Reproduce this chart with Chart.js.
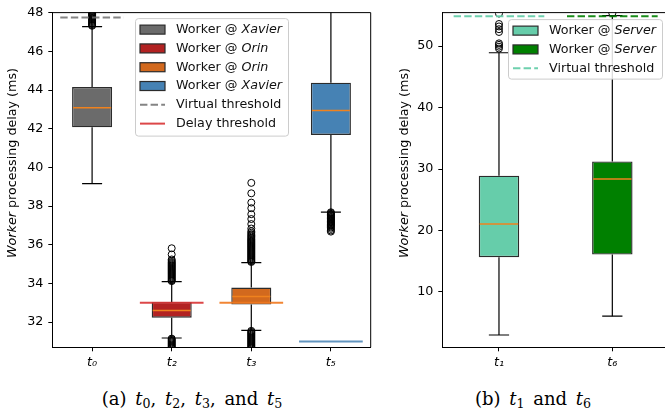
<!DOCTYPE html>
<html><head><meta charset="utf-8">
<script src="https://cdn.jsdelivr.net/npm/chart.js@4.4.0/dist/chart.umd.min.js"></script>
<style>
html,body{margin:0;padding:0;background:#fff;width:665px;height:416px;overflow:hidden;position:relative;}
#wrapA{position:absolute;left:0;top:0;width:380px;height:375px;}
#wrapB{position:absolute;left:380px;top:0;width:300px;height:375px;}
.cap{position:absolute;font-family:"DejaVu Serif",serif;font-size:18px;line-height:1;color:#000;white-space:nowrap;word-spacing:3px;transform:translateX(-50%);}
.cap sub{font-size:70%;vertical-align:-0.25em;line-height:0;}
</style></head><body>
<div id="wrapA"><canvas id="chartA" width="380" height="375"></canvas></div>
<div id="wrapB"><canvas id="chartB" width="300" height="375"></canvas></div>
<div class="cap" style="left:192px;top:390px">(a) <i>t</i><sub>0</sub>, <i>t</i><sub>2</sub>, <i>t</i><sub>3</sub>, and <i>t</i><sub>5</sub></div>
<div class="cap" style="left:533px;top:390px">(b) <i>t</i><sub>1</sub> and <i>t</i><sub>6</sub></div>
<script>
// ---------- Panel (a) data ----------
const catsA = ['t0', 't2', 't3', 't5'];
const tickLabelsA = ['t\u2080', 't\u2082', 't\u2083', 't\u2085'];
const q1A = [42.07, 32.23, 32.91, 41.68];
const q3A = [44.15, 33.03, 33.79, 44.38];
const medA = [43.08, 32.60, 33.33, 42.94];
const whiskLoA = [39.16, 31.18, 31.57, 37.69];
const whiskHiA = [47.28, 34.09, 35.08, 48.60];
const thresholdA = [47.75, 33.00, 33.00, 31.00];
const thresholdDashedA = [true, false, false, false];
const fliersA_t0 = [47.32, 47.36, 47.41, 47.46, 47.51, 47.56, 47.61, 47.66, 47.71, 47.76, 47.81, 47.86, 47.91, 47.96, 48.01, 48.08, 48.15];
const fliersA_t2 = [34.12, 34.16, 34.21, 34.26, 34.31, 34.36, 34.41, 34.46, 34.51, 34.56, 34.61, 34.66, 34.71, 34.76, 34.81, 34.86,
                    34.91, 34.96, 35.01, 35.06, 35.11, 35.17, 35.24, 35.50, 35.82,
                    31.15, 31.10, 31.05, 31.00, 30.95, 30.90, 30.85, 30.80, 30.75, 30.70, 30.65];
const fliersA_t3 = [39.20, 38.66, 38.18, 37.89, 37.58, 37.33, 37.07, 36.84, 36.70, 36.62, 36.55, 36.48, 36.42, 36.36, 36.30, 36.25,
                    36.20, 36.15, 36.10, 36.05, 36.00, 35.95, 35.90, 35.85, 35.80, 35.75, 35.70, 35.65, 35.60, 35.55, 35.50, 35.45,
                    35.40, 35.35, 35.30, 35.25, 35.20, 35.15, 35.11,
                    31.55, 31.50, 31.45, 31.40, 31.35, 31.30, 31.25, 31.20, 31.15, 31.10, 31.05, 31.00, 30.95, 30.90, 30.85,
                    30.80, 30.75, 30.70, 30.65];
const fliersA_t5 = [37.68, 37.64, 37.60, 37.56, 37.52, 37.48, 37.44, 37.40, 37.36, 37.32, 37.28, 37.24, 37.20, 37.16, 37.12, 37.08,
                    37.04, 37.00, 36.95, 36.89, 36.82, 36.74, 36.68];
const yTicksA = [32, 34, 36, 38, 40, 42, 44, 46, 48];
const boxColorsA = ['#6b6b6b', '#b22222', '#d2691e', '#4682b4'];
const thresholdColorsA = ['rgba(110,110,110,0.85)', 'rgba(214,39,40,0.85)', 'rgba(240,120,30,0.9)', 'rgba(70,130,180,0.85)'];
const legendLabelsA = [
  [['Worker @ ', false], ['Xavier', true]],
  [['Worker @ ', false], ['Orin', true]],
  [['Worker @ ', false], ['Orin', true]],
  [['Worker @ ', false], ['Xavier', true]],
  [['Virtual threshold', false]],
  [['Delay threshold', false]]
];
const legendKindsA = ['box', 'box', 'box', 'box', 'dash', 'line'];
const legendColorsA = ['#6b6b6b', '#b22222', '#d2691e', '#4682b4', 'rgba(110,110,110,0.85)', 'rgba(214,39,40,0.85)'];

// ---------- Panel (b) data ----------
const catsB = ['t1', 't6'];
const tickLabelsB = ['t\u2081', 't\u2086'];
const q1B = [15.65, 16.09];
const q3B = [28.93, 31.24];
const medB = [21.08, 28.38];
const whiskLoB = [3.00, 6.07];
const whiskHiB = [48.92, 54.95];
const thresholdB = [54.85, 54.85];
const thresholdDashedB = [true, true];
const fliersB_t1 = [49.60, 49.90, 50.20, 50.45, 52.30, 52.75, 53.20, 53.60, 55.30];
const fliersB_t6 = [55.35];
const yTicksB = [10, 20, 30, 40, 50];
const boxColorsB = ['#66cdaa', '#008000'];
const thresholdColorsB = ['rgba(102,205,170,0.95)', 'rgba(0,128,0,0.9)'];
const legendLabelsB = [
  [['Worker @ ', false], ['Server', true]],
  [['Worker @ ', false], ['Server', true]],
  [['Virtual threshold', false]]
];
const legendKindsB = ['box', 'box', 'dash'];
const legendColorsB = ['#66cdaa', '#008000', 'rgba(102,205,170,0.95)'];

// ---------- drawing helpers ----------
const FONT = '"DejaVu Sans", sans-serif';
const FS = 12.7;
const DASH = [7.4, 3.2];
function seg(ctx, x1, y1, x2, y2) { ctx.beginPath(); ctx.moveTo(x1, y1); ctx.lineTo(x2, y2); ctx.stroke(); }
function drawParts(ctx, parts, x, y) {
  let cx = x;
  parts.forEach(([t, it]) => {
    ctx.font = (it ? 'italic ' : '') + FS + 'px ' + FONT;
    ctx.fillText(t, cx, y);
    cx += ctx.measureText(t).width;
  });
}
function partsWidth(ctx, parts) {
  let w = 0;
  parts.forEach(([t, it]) => { ctx.font = (it ? 'italic ' : '') + FS + 'px ' + FONT; w += ctx.measureText(t).width; });
  return w;
}

const boxPlugin = {
  id: 'boxExtras',
  afterDatasetsDraw(chart, args, o) {
    const { ctx, chartArea: ca, scales: { x, y } } = chart;
    const meta = chart.getDatasetMeta(0);
    const catW = x.getPixelForValue(1) - x.getPixelForValue(0);
    ctx.save();
    ctx.beginPath(); ctx.rect(ca.left, ca.top, ca.width, ca.height); ctx.clip();
    o.cats.forEach((c, i) => {
      const cx = x.getPixelForValue(i);
      const half = meta.data[i].width / 2;
      ctx.setLineDash([]);
      ctx.strokeStyle = '#000'; ctx.lineWidth = 1.2;
      seg(ctx, cx, y.getPixelForValue(o.q3[i]), cx, y.getPixelForValue(o.hi[i]));
      seg(ctx, cx, y.getPixelForValue(o.q1[i]), cx, y.getPixelForValue(o.lo[i]));
      seg(ctx, cx - half / 2, y.getPixelForValue(o.hi[i]), cx + half / 2, y.getPixelForValue(o.hi[i]));
      seg(ctx, cx - half / 2, y.getPixelForValue(o.lo[i]), cx + half / 2, y.getPixelForValue(o.lo[i]));
      ctx.strokeStyle = '#f0821e'; ctx.lineWidth = 1.5;
      seg(ctx, cx - half + 1, y.getPixelForValue(o.med[i]), cx + half - 1, y.getPixelForValue(o.med[i]));
      ctx.strokeStyle = o.thrColors[i]; ctx.lineWidth = 2;
      ctx.setLineDash(o.thrDashed[i] ? DASH : []);
      seg(ctx, cx - 0.4 * catW, y.getPixelForValue(o.thr[i]), cx + 0.4 * catW, y.getPixelForValue(o.thr[i]));
    });
    ctx.restore();
  },
  afterDraw(chart, args, o) {
    const { ctx, chartArea: ca } = chart;
    ctx.save();
    ctx.strokeStyle = '#000'; ctx.lineWidth = 1; ctx.setLineDash([]);
    seg(ctx, ca.left, ca.top, ca.right, ca.top);
    seg(ctx, ca.right, ca.top, ca.right, ca.bottom);
    const title = [['Worker', true], [' processing delay (ms)', false]];
    ctx.fillStyle = '#000'; ctx.textBaseline = 'middle'; ctx.textAlign = 'left';
    const tw = partsWidth(ctx, title);
    ctx.save();
    ctx.translate(o.titleX, o.titleY);
    ctx.rotate(-Math.PI / 2);
    drawParts(ctx, title, -tw / 2, 0);
    ctx.restore();
    const L = o.legend;
    const lx = ca.left + L.dx, ly = ca.top + L.dy;
    ctx.fillStyle = 'rgba(255,255,255,0.85)';
    ctx.strokeStyle = '#cccccc'; ctx.lineWidth = 1;
    ctx.beginPath(); ctx.roundRect(lx + 0.5, ly + 0.5, L.w, L.h, 3); ctx.fill(); ctx.stroke();
    L.labels.forEach((parts, i) => {
      const cy = ly + 11.5 + i * 18.8;
      const kind = L.kinds[i];
      if (kind === 'box') {
        ctx.fillStyle = L.colors[i]; ctx.strokeStyle = '#2b2b2b'; ctx.lineWidth = 1.2; ctx.setLineDash([]);
        ctx.fillRect(lx + 5, cy - 4.5, 25, 9);
        ctx.strokeRect(lx + 5, cy - 4.5, 25, 9);
      } else {
        ctx.strokeStyle = L.colors[i]; ctx.lineWidth = 2;
        ctx.setLineDash(kind === 'dash' ? DASH : []);
        seg(ctx, lx + 5, cy, lx + 30, cy);
        ctx.setLineDash([]);
      }
      ctx.fillStyle = '#111';
      drawParts(ctx, parts, lx + 41, cy);
    });
    ctx.restore();
  }
};

function makeChart(id, cats, tickLabels, q1, q3, med, lo, hi, thr, thrDashed, fliers, yTicks, yMin, yMax,
                   boxColors, thrColors, barPct, pad, yWidth, titleX, titleY, legend) {
  const axisGrid = { display: true, offset: false, drawOnChartArea: false, drawTicks: true, tickLength: 4, color: '#000', lineWidth: 1 };
  return new Chart(document.getElementById(id), {
    type: 'bar',
    data: {
      labels: cats,
      datasets: [
        { type: 'bar', data: cats.map((c, i) => [q1[i], q3[i]]), backgroundColor: boxColors, borderColor: '#2b2b2b',
          borderWidth: 1.4, borderSkipped: false, barPercentage: barPct, categoryPercentage: 1, order: 2 },
        { type: 'line', data: fliers.flatMap((arr, i) => arr.map(v => ({ x: cats[i], y: v }))), showLine: false,
          pointRadius: 3.5, pointBorderWidth: 1, pointBorderColor: '#000', pointBackgroundColor: 'rgba(0,0,0,0)', clip: 0, order: 1 }
      ]
    },
    options: {
      responsive: false, animation: false, events: [],
      layout: { padding: pad },
      plugins: {
        legend: { display: false }, tooltip: { enabled: false },
        boxExtras: { cats, q1, q3, med, lo, hi, thr, thrDashed, thrColors, titleX, titleY, legend }
      },
      scales: {
        x: { type: 'category', offset: true, grid: axisGrid, border: { display: true, color: '#000', width: 1 },
             ticks: { color: '#000', font: { family: FONT, size: FS, style: 'italic' }, padding: 4, maxRotation: 0, autoSkip: false,
                      callback: (v, i) => tickLabels[i] },
             afterFit: s => { s.height = 27.7; } },
        y: { type: 'linear', min: yMin, max: yMax, grid: axisGrid, border: { display: true, color: '#000', width: 1 },
             ticks: { color: '#000', font: { family: FONT, size: FS }, padding: 5 },
             afterBuildTicks: s => { s.ticks = yTicks.map(v => ({ value: v })); },
             afterFit: s => { s.width = yWidth; } }
      }
    },
    plugins: [boxPlugin]
  });
}

makeChart('chartA', catsA, tickLabelsA, q1A, q3A, medA, whiskLoA, whiskHiA, thresholdA, thresholdDashedA,
  [fliersA_t0, fliersA_t2, fliersA_t3, fliersA_t5], yTicksA, 30.7, 48.0, boxColorsA, thresholdColorsA, 0.503,
  { left: 0, top: 10, right: 9.3, bottom: 0 }, 52.3, 13, 163,
  { dx: 82.7, dy: 5.5, w: 153, h: 117.5, labels: legendLabelsA, kinds: legendKindsA, colors: legendColorsA });

makeChart('chartB', catsB, tickLabelsB, q1B, q3B, medB, whiskLoB, whiskHiB, thresholdB, thresholdDashedB,
  [fliersB_t1, fliersB_t6], yTicksB, 1.0, 55.45, boxColorsB, thresholdColorsB, 0.357,
  { left: 0, top: 10, right: 11, bottom: 0 }, 62.3, 25, 163,
  { dx: 65.7, dy: 6.5, w: 154, h: 59.5, labels: legendLabelsB, kinds: legendKindsB, colors: legendColorsB });
</script>
</body></html>
